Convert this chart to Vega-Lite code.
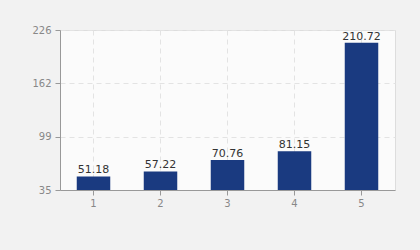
{
  "$schema": "https://vega.github.io/schema/vega-lite/v6.json",
  "width": 335,
  "height": 160,
  "autosize": "none",
  "padding": {"left": 60, "top": 30, "right": 25, "bottom": 60},
  "background": "#f2f2f2",
  "config": {
    "view": {"fill": "#fbfbfb", "stroke": "#dddddd"},
    "font": "DejaVu Sans"
  },
  "data": {
    "values": [
      {"x": "1", "v": 51.18},
      {"x": "2", "v": 57.22},
      {"x": "3", "v": 70.76},
      {"x": "4", "v": 81.15},
      {"x": "5", "v": 210.72}
    ]
  },
  "encoding": {
    "x": {
      "field": "x",
      "type": "ordinal",
      "scale": {"paddingInner": 0.5, "paddingOuter": 0.25},
      "axis": {
        "title": null,
        "labelAngle": 0,
        "labelColor": "#888888",
        "labelFontSize": 10,
        "domainColor": "#999999",
        "tickColor": "#999999",
        "tickSize": 5,
        "grid": true,
        "gridColor": "#e3e3e3",
        "gridDash": [5, 4],
        "labelPadding": 3
      }
    },
    "y": {
      "field": "v",
      "type": "quantitative",
      "scale": {"domain": [35, 226], "nice": false, "zero": false},
      "axis": {
        "title": null,
        "values": [35, 98.67, 162.33, 226],
        "format": ".0f",
        "labelColor": "#888888",
        "labelFontSize": 10,
        "domainColor": "#999999",
        "tickColor": "#999999",
        "tickSize": 5,
        "grid": true,
        "gridColor": "#e3e3e3",
        "gridDash": [5, 4],
        "labelPadding": 4
      }
    }
  },
  "layer": [
    {"mark": {"type": "bar", "color": "#1a3a80"}, "encoding": {"y2": {"datum": 35}}},
    {
      "mark": {"type": "text", "baseline": "bottom", "dy": -1, "fontSize": 11, "color": "#333333"},
      "encoding": {"text": {"field": "v", "type": "quantitative", "format": ".2f"}}
    }
  ]
}
